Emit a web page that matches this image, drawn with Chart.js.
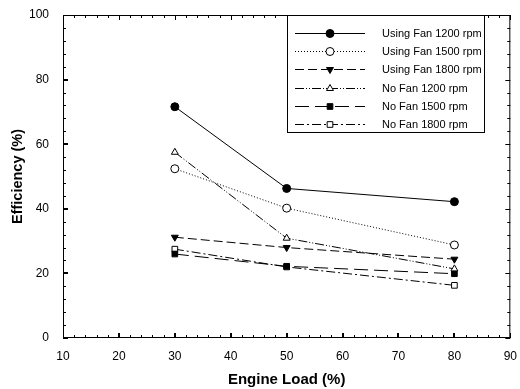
<!DOCTYPE html>
<html lang="en">
<head>
<meta charset="UTF-8">
<title>Efficiency vs Engine Load</title>
<style>
  html, body { margin: 0; padding: 0; background: #fff; }
  #wrap { width: 520px; height: 389px; }
</style>
</head>
<body>
<div id="wrap"><canvas id="myChart" width="520" height="389"></canvas></div>
<script src="https://cdn.jsdelivr.net/npm/chart.js"></script>
<script>
// data
const loads = [30, 50, 80];
const usingFan1200 = [71.6, 46.3, 42.2];
const usingFan1500 = [52.4, 40.2, 28.8];
const usingFan1800 = [31.2, 28.0, 24.4];
const noFan1200 = [57.5, 30.9, 21.4];
const noFan1500 = [26.0, 22.2, 19.9];
const noFan1800 = [27.5, 22.0, 16.3];
const xTicks = [10, 20, 30, 40, 50, 60, 70, 80, 90];
const yTicks = [0, 20, 40, 60, 80, 100];

const FONT = 'Arial, "Liberation Sans", sans-serif';

function pts(vals) {
    return loads.map((x, i) => ({ x: x, y: vals[i] }));
}

function series(label, vals, dash, style, filled, rot) {
    return {
        label: label,
        data: pts(vals),
        borderColor: '#000',
        borderWidth: 1,
        borderDash: dash,
        pointStyle: style,
        pointRotation: rot || 0,
        pointRadius: 4,
        pointBorderWidth: 1,
        pointBorderColor: '#000',
        pointBackgroundColor: filled ? '#000' : '#fff',
        fill: false,
        tension: 0
    };
}

const datasets = [
    series('Using Fan 1200 rpm', usingFan1200, [], 'circle', true),
    series('Using Fan 1500 rpm', usingFan1500, [1, 2], 'circle', false),
    series('Using Fan 1800 rpm', usingFan1800, [9, 4], 'triangle', true, 180),
    series('No Fan 1200 rpm', noFan1200, [9, 2, 1, 2, 1, 2], 'triangle', false),
    series('No Fan 1500 rpm', noFan1500, [14, 6], 'rect', true),
    series('No Fan 1800 rpm', noFan1800, [9, 3, 2, 3], 'rect', false)
];

// frame, inside ticks, axis titles and legend
const framePlugin = {
    id: 'frame',
    afterDraw(chart) {
        const ctx = chart.ctx;
        const a = chart.chartArea;
        const xs = chart.scales.x, ys = chart.scales.y;
        ctx.save();
        ctx.strokeStyle = '#000';
        ctx.lineWidth = 1;
        ctx.setLineDash([]);
        ctx.strokeRect(a.left + 0.5, a.top + 0.5, a.right - a.left - 1, a.bottom - a.top - 1);

        ctx.beginPath();
        for (let v = 10; v <= 90; v += 2) {
            const px = Math.round(xs.getPixelForValue(v)) + 0.5;
            const len = v % 10 === 0 ? 5 : 3;
            ctx.moveTo(px, a.bottom); ctx.lineTo(px, a.bottom - len);
            ctx.moveTo(px, a.top); ctx.lineTo(px, a.top + len);
        }
        for (let v = 0; v <= 100; v += 4) {
            const py = Math.round(ys.getPixelForValue(v)) + 0.5;
            const len = v % 20 === 0 ? 5 : 3;
            ctx.moveTo(a.left, py); ctx.lineTo(a.left + len, py);
            ctx.moveTo(a.right, py); ctx.lineTo(a.right - len, py);
        }
        ctx.stroke();
        // thicker major ticks
        ctx.lineWidth = 2;
        ctx.beginPath();
        for (let v = 20; v < 90; v += 10) {
            const px = Math.round(xs.getPixelForValue(v));
            ctx.moveTo(px, a.bottom); ctx.lineTo(px, a.bottom - 5);
        }
        for (let v = 20; v < 100; v += 20) {
            const py = Math.round(ys.getPixelForValue(v));
            ctx.moveTo(a.left, py); ctx.lineTo(a.left + 5, py);
        }
        ctx.stroke();

        // axis titles
        ctx.fillStyle = '#000';
        ctx.textAlign = 'center';
        ctx.textBaseline = 'middle';
        ctx.font = 'bold 15px ' + FONT;
        ctx.fillText('Engine Load (%)', (a.left + a.right) / 2, 380);
        ctx.save();
        ctx.translate(18, (a.top + a.bottom) / 2);
        ctx.rotate(-Math.PI / 2);
        ctx.font = 'bold 14.5px ' + FONT;
        ctx.fillText('Efficiency (%)', 0, 0);
        ctx.restore();

        // legend
        const lx = 287, ly = 15, lw = 197, lh = 117;
        ctx.lineWidth = 1;
        ctx.fillStyle = '#fff';
        ctx.fillRect(lx, ly, lw, lh);
        ctx.strokeRect(lx + 0.5, ly + 0.5, lw, lh);
        ctx.font = '11px ' + FONT;
        ctx.textAlign = 'left';
        datasets.forEach((ds, i) => {
            const y = Math.round(33 + i * 18.2) + 0.5;
            ctx.strokeStyle = '#000';
            ctx.setLineDash(ds.borderDash);
            ctx.beginPath();
            ctx.moveTo(295, y); ctx.lineTo(365, y);
            ctx.stroke();
            ctx.setLineDash([]);
            ctx.fillStyle = ds.pointBackgroundColor;
            Chart.helpers.drawPoint(ctx, {
                pointStyle: ds.pointStyle,
                rotation: ds.pointRotation,
                radius: ds.pointRadius,
                borderWidth: 1
            }, 330, y);
            ctx.fillStyle = '#000';
            ctx.fillText(ds.label, 382, y);
        });
        ctx.restore();
    }
};

const config = {
    type: 'line',
    data: { datasets: datasets },
    options: {
        responsive: false,
        animation: false,
        layout: { padding: { top: 15, right: 6, left: 0, bottom: 0 } },
        plugins: {
            legend: { display: false },
            tooltip: { enabled: false }
        },
        scales: {
            x: {
                type: 'linear',
                min: 10,
                max: 90,
                afterFit: (s) => { s.height = 51; },
                afterBuildTicks: (s) => { s.ticks = xTicks.map(v => ({ value: v })); },
                grid: { display: false },
                border: { display: false },
                ticks: { color: '#000', font: { family: FONT, size: 12 }, padding: 3, maxRotation: 0 }
            },
            y: {
                min: 0,
                max: 100,
                afterFit: (s) => { s.width = 63; },
                afterBuildTicks: (s) => { s.ticks = yTicks.map(v => ({ value: v })); },
                grid: { display: false },
                border: { display: false },
                ticks: { color: '#000', font: { family: FONT, size: 12 }, padding: 6 }
            }
        }
    },
    plugins: [framePlugin]
};

const myChart = new Chart(document.getElementById('myChart'), config);
</script>
</body>
</html>
